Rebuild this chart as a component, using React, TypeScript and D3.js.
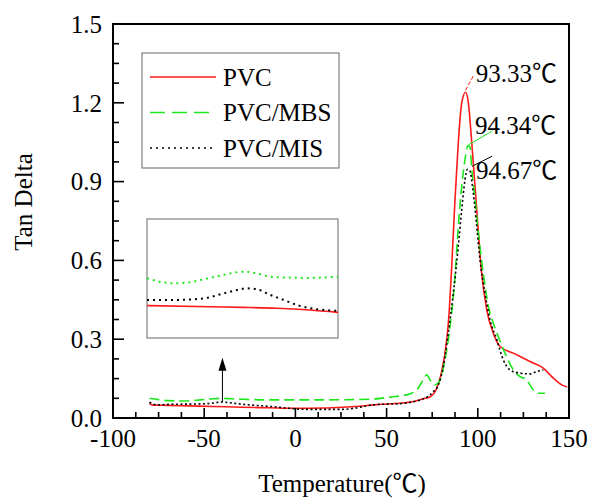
import React from "react";
import * as d3 from "d3";

// ---------- data ----------
const pvcTemps = [-80, -78, -70, -58, -45, -30, -15, 0, 15, 26, 35, 43, 52, 60, 65, 70, 74, 77.5, 80, 82, 84, 85.7, 87.5, 89.3, 91.2, 93.3, 94.8, 96.7, 99.4, 102.1, 104.9, 108.5, 112.2, 119.5, 128.6, 135.9, 141.4, 146, 149];
const pvcValues = [0.056, 0.049, 0.048, 0.046, 0.044, 0.041, 0.039, 0.037, 0.038, 0.041, 0.045, 0.05, 0.054, 0.058, 0.063, 0.073, 0.081, 0.113, 0.171, 0.247, 0.374, 0.578, 0.832, 1.048, 1.201, 1.24, 1.201, 1.048, 0.794, 0.552, 0.412, 0.323, 0.272, 0.247, 0.215, 0.19, 0.152, 0.126, 0.118];

const mbsTemps = [-80, -75, -70, -62, -52, -45, -40, -35, -27, -15, 0, 15, 30, 43, 50, 55, 61, 66.5, 70.1, 72, 73.8, 76.5, 79.3, 82, 84.8, 87.5, 89.3, 91.2, 93, 94.5, 95.7, 96.7, 98.5, 100.3, 103, 105.8, 108.5, 111.2, 114.9, 119.5, 123.1, 126.8, 130.4, 134.1, 136.8];
const mbsValues = [0.075, 0.07, 0.066, 0.065, 0.069, 0.073, 0.075, 0.073, 0.071, 0.069, 0.069, 0.069, 0.07, 0.072, 0.078, 0.082, 0.088, 0.107, 0.145, 0.164, 0.145, 0.126, 0.145, 0.221, 0.349, 0.539, 0.73, 0.883, 0.985, 1.036, 1.033, 0.947, 0.832, 0.705, 0.552, 0.425, 0.361, 0.31, 0.247, 0.183, 0.158, 0.145, 0.107, 0.094, 0.094];

const misTemps = [-80, -76, -68, -58, -50, -45, -40, -36, -30, -20, -12, -5, 6, 15, 26, 33, 39, 46, 52, 58, 64.6, 68, 72, 75.6, 78.4, 81.1, 83.8, 86.6, 89.3, 91.2, 93, 94.3, 95.7, 97.5, 99.4, 101.2, 103.9, 106.7, 110.4, 114, 117.7, 123.1, 128.6, 132.3, 135.9];
const misValues = [0.06, 0.05, 0.052, 0.053, 0.054, 0.057, 0.061, 0.058, 0.053, 0.047, 0.043, 0.038, 0.033, 0.033, 0.033, 0.038, 0.046, 0.052, 0.053, 0.055, 0.062, 0.068, 0.079, 0.1, 0.126, 0.196, 0.323, 0.476, 0.654, 0.794, 0.908, 0.947, 0.94, 0.858, 0.73, 0.603, 0.476, 0.374, 0.298, 0.221, 0.183, 0.171, 0.168, 0.177, 0.183];

// inset (magnified view around -40 °C)
const insetPvcTemps = [-60, -46.8, -39.8, -32.8, -25.9, -20];
const insetPvcValues = [0.0509, 0.0505, 0.0503, 0.05, 0.0494, 0.0486];
const insetMbsTemps = [-60, -57.3, -54.5, -51.7, -48.2, -44, -39.8, -37, -34.2, -30.1, -26.9, -20];
const insetMbsValues = [0.0601, 0.0589, 0.0584, 0.0586, 0.0597, 0.0612, 0.0623, 0.0617, 0.0606, 0.0603, 0.0602, 0.0606];
const insetMisTemps = [-60, -53.8, -48.2, -44, -41.2, -39.1, -37, -34.2, -31.4, -28, -24.5, -20];
const insetMisValues = [0.0528, 0.0528, 0.0533, 0.055, 0.0561, 0.0567, 0.0564, 0.0545, 0.0528, 0.0508, 0.0497, 0.0491];

const seriesNames = ["PVC", "PVC/MBS", "PVC/MIS"];
const peakLabels = ["93.33℃", "94.34℃", "94.67℃"];
const peakTemps = [93.33, 94.34, 94.67];
const peakValues = [1.24, 1.036, 0.947];
const arrowTemp = -40;
const arrowValues = [0.061, 0.229];

const xTicks = [-100, -50, 0, 50, 100, 150];
const yTicks = [0, 0.3, 0.6, 0.9, 1.2, 1.5];
const yTickLabels = ["0.0", "0.3", "0.6", "0.9", "1.2", "1.5"];

// ---------- layout ----------
const W = 590, H = 500;
const L = 113, R = 569, T = 24, B = 418;
const FONT = "Liberation Serif, Times New Roman, Noto Sans CJK SC, serif";
const RED = "#ff1a1a", GREEN = "#1ee61e", BLACK = "#000";

const x = d3.scaleLinear().domain([-100, 150]).range([L, R]);
const y = d3.scaleLinear().domain([0, 1.5]).range([B, T]);

const ix = d3.scaleLinear().domain([-60, -20]).range([147, 338]);
const iy = d3.scaleLinear().domain([0.04, 0.08]).range([338, 219]);

function pathOf(ts: number[], vs: number[], sx: any, sy: any) {
  const pts: [number, number][] = ts.map((t, i) => [t, vs[i]]);
  return d3.line<[number, number]>().x(d => sx(d[0])).y(d => sy(d[1])).curve(d3.curveMonotoneX)(pts) || "";
}

const styles = [
  { color: RED, dash: undefined as string | undefined, w: 1.6 },
  { color: GREEN, dash: "10,5", w: 1.6 },
  { color: BLACK, dash: "2,2.5", w: 1.6 },
];

const txt: React.CSSProperties = { fontFamily: FONT };

export default function App() {
  const mainData = [
    [pvcTemps, pvcValues],
    [mbsTemps, mbsValues],
    [misTemps, misValues],
  ];
  const insetData = [
    [insetPvcTemps, insetPvcValues],
    [insetMbsTemps, insetMbsValues],
    [insetMisTemps, insetMisValues],
  ];
  const xMinor = d3.range(-100, 150.001, 12.5);
  const yMinor = d3.range(0, 1.5001, 0.075);
  const labelOffsets = [[10, -10], [7.5, -11.5], [8, 10]];
  const leaderOffsets = [[[0, -2], [8, -17]], [[1, -1], [25, -15]], [[4, -3], [24, -13]]];

  const ax = x(arrowTemp);
  return (
    <svg width={W} height={H} style={{ position: "absolute", left: 0, top: 0, background: "#fff", fontFamily: FONT }}>
      <rect x={0} y={0} width={W} height={H} fill="#fff" />
      {mainData.map((d, i) => (
        <path key={i} d={pathOf(d[0], d[1], x, y)} fill="none" stroke={styles[i].color}
          strokeWidth={styles[i].w} strokeDasharray={styles[i].dash} />
      ))}
      <rect x={L} y={T} width={R - L} height={B - T} fill="none" stroke="#000" strokeWidth={2} />
      {xMinor.map((t, i) => {
        const major = xTicks.includes(t);
        return <line key={"xt" + i} x1={x(t)} x2={x(t)} y1={B} y2={B - (major ? 10 : 6)} stroke="#000" strokeWidth={1.6} />;
      })}
      {yMinor.map((v, i) => {
        const major = i % 4 === 0;
        return <line key={"yt" + i} x1={L} x2={L + (major ? 11 : 6)} y1={y(v)} y2={y(v)} stroke="#000" strokeWidth={1.6} />;
      })}
      {xTicks.map((t, i) => (
        <text key={"xl" + i} style={txt} x={x(t)} y={447} fontSize={25} textAnchor="middle" fill="#000">{t}</text>
      ))}
      {yTicks.map((v, i) => (
        <text key={"yl" + i} style={txt} x={102} y={y(v)} dy="0.35em" fontSize={25} textAnchor="end" fill="#000">{yTickLabels[i]}</text>
      ))}
      <text style={txt} x={342} y={492} fontSize={25} textAnchor="middle" fill="#000">Temperature(℃)</text>
      <text style={txt} transform={`translate(32,202) rotate(-90)`} fontSize={25} textAnchor="middle" fill="#000">Tan Delta</text>

      <rect x={142} y={53} width={197} height={115} fill="#fff" stroke="#666" strokeWidth={1} />
      {seriesNames.map((n, i) => {
        const yy = 77 + i * 35.5;
        return (
          <g key={"lg" + i}>
            <line x1={150} x2={216} y1={yy} y2={yy} stroke={styles[i].color} strokeWidth={1.6}
              strokeDasharray={i === 1 ? "15,7" : i === 2 ? "2,4" : undefined} />
            <text style={txt} x={223} y={yy} dy="0.35em" fontSize={25} fill="#000">{n}</text>
          </g>
        );
      })}

      {peakLabels.map((lab, i) => {
        const px = x(peakTemps[i]), py = y(peakValues[i]);
        const lo = leaderOffsets[i];
        return (
          <g key={"pk" + i}>
            <line x1={px + lo[0][0]} y1={py + lo[0][1]} x2={px + lo[1][0]} y2={py + lo[1][1]}
              stroke={styles[i].color} strokeWidth={1} strokeDasharray={i === 0 ? "4,2" : undefined} />
            <text style={txt} x={px + labelOffsets[i][0]} y={py + labelOffsets[i][1]} fontSize={25} fill="#000">{lab}</text>
          </g>
        );
      })}

      <rect x={147} y={219} width={191} height={119} fill="#fff" stroke="#808080" strokeWidth={1.2} />
      {insetData.map((d, i) => (
        <path key={"in" + i} d={pathOf(d[0], d[1], ix, iy)} fill="none" stroke={styles[i].color}
          strokeWidth={i === 0 ? 1.6 : 2} strokeDasharray={i === 0 ? undefined : "2,4"} />
      ))}

      <line x1={ax} x2={ax} y1={y(arrowValues[0])} y2={y(arrowValues[1]) + 10} stroke="#000" strokeWidth={1} />
      <path d={`M${ax},${y(arrowValues[1])} L${ax - 4},${y(arrowValues[1]) + 13} L${ax + 4},${y(arrowValues[1]) + 13} Z`} fill="#000" />
    </svg>
  );
}
